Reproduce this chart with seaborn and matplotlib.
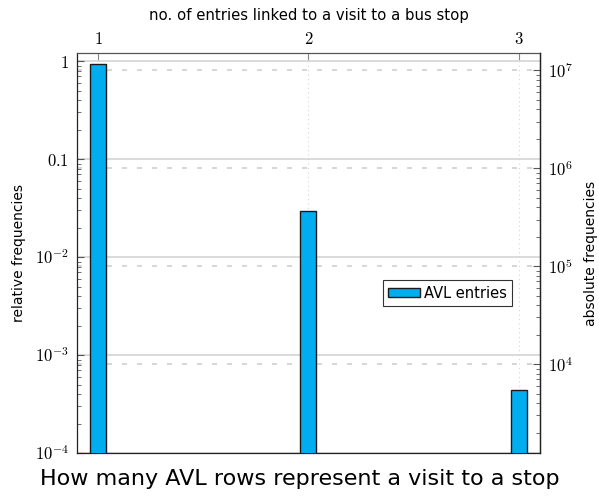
import numpy as np
import pandas as pd
import matplotlib
matplotlib.use('Agg')
import matplotlib.pyplot as plt
import matplotlib.ticker as mticker
import seaborn as sns

# данные
n_entries = [1, 2, 3]
rel_freq = [0.938, 0.0296, 0.000443]
total_visits = 1.24e7  # абсолютные = относительные * total

left_ticks = [1e-4, 1e-3, 1e-2, 1e-1, 1]
left_labels = [r'$10^{-4}$', r'$10^{-3}$', r'$10^{-2}$', r'$0.1$', r'$1$']
right_ticks = [1e4, 1e5, 1e6, 1e7]
right_labels = [r'$10^{4}$', r'$10^{5}$', r'$10^{6}$', r'$10^{7}$']

sns.set_style('white')
plt.rcParams['font.family'] = ['DejaVu Sans']
plt.rcParams['mathtext.fontset'] = 'cm'
plt.rcParams['text.color'] = 'black'
plt.rcParams['axes.labelcolor'] = 'black'
plt.rcParams['xtick.labelcolor'] = 'black'
plt.rcParams['ytick.labelcolor'] = 'black'

df = pd.DataFrame({'n': n_entries, 'rel': rel_freq})

fig = plt.figure(figsize=(5.99, 4.96), dpi=100)
ax = fig.add_axes([0.1285, 0.0867, 0.9015 - 0.1285, 0.893 - 0.0867])

sns.barplot(data=df, x='n', y='rel', native_scale=True, width=0.076,
            color='#00aeef', saturation=1, edgecolor='#1a1a1a', linewidth=1.0,
            ax=ax, label='AVL entries', zorder=3)

ax.set_yscale('log')
ylim = (1e-4, 1.21)
ax.set_ylim(*ylim)
ax.set_xlim(0.9, 3.1)

# оси
ax.yaxis.set_major_locator(mticker.FixedLocator(left_ticks))
ax.set_yticklabels(left_labels, fontsize=12)
ax.yaxis.set_minor_locator(mticker.LogLocator(base=10, subs=np.arange(2, 10)))
ax.yaxis.set_minor_formatter(mticker.NullFormatter())
ax.tick_params(axis='y', which='major', direction='in', length=5, width=0.8,
               color='#555555', left=True, right=False, pad=6)
ax.tick_params(axis='y', which='minor', direction='in', length=3, width=0.6,
               color='#555555', left=True, right=False)

ax.xaxis.tick_top()
ax.set_xticks(n_entries)
ax.set_xticklabels([rf'${v}$' for v in n_entries], fontsize=12)
ax.tick_params(axis='x', which='major', direction='in', length=5, width=0.8,
               color='#888888', top=True, bottom=False, pad=4)
ax.xaxis.set_label_position('top')
ax.set_xlabel('no. of entries linked to a visit to a bus stop', fontsize=10.7, labelpad=7)
ax.set_ylabel('relative frequencies', fontsize=10, labelpad=6)

# сетка
ax.grid(axis='y', which='major', color='#d4d4d4', linewidth=1.2, linestyle='-', zorder=0)
ax.grid(axis='x', which='major', color='#d4d4d4', linewidth=0.8, linestyle=(0, (1, 3)), zorder=0)
for v in right_ticks:
    ax.axhline(v / total_visits, color='#d0d0d0', linewidth=1.2,
               linestyle=(0, (3, 6)), zorder=0)
ax.set_axisbelow(True)

for sp in ax.spines.values():
    sp.set_color('#222222')
    sp.set_linewidth(0.9)
ax.spines['top'].set_color('#555555')

# правая ось
ax2 = ax.twinx()
ax2.set_yscale('log')
ax2.set_ylim(ylim[0] * total_visits, ylim[1] * total_visits)
ax2.yaxis.set_major_locator(mticker.FixedLocator(right_ticks))
ax2.set_yticklabels(right_labels, fontsize=12)
ax2.yaxis.set_minor_locator(mticker.LogLocator(base=10, subs=np.arange(2, 10)))
ax2.yaxis.set_minor_formatter(mticker.NullFormatter())
ax2.tick_params(axis='y', which='major', direction='in', length=5, width=0.8,
                color='#555555', pad=6)
ax2.tick_params(axis='y', which='minor', direction='in', length=3, width=0.6,
                color='#555555')
ax2.set_ylabel('absolute frequencies', fontsize=10, labelpad=8)
for sp in ax2.spines.values():
    sp.set_visible(False)
ax2.spines['right'].set_visible(True)
ax2.spines['right'].set_color('#222222')
ax2.spines['right'].set_linewidth(0.9)

leg = ax.legend(loc='center', bbox_to_anchor=(0.80, 0.40), fontsize=10.5,
                frameon=True, fancybox=False, edgecolor='black',
                handlelength=2.2, handleheight=0.6, handletextpad=0.3,
                borderpad=0.35, borderaxespad=0)
leg.get_frame().set_linewidth(0.8)
leg.set_zorder(10)

fig.text(0.5, 0.035, 'How many AVL rows represent a visit to a stop',
         ha='center', va='center', fontsize=16)

fig.savefig('out.png', dpi=100)
